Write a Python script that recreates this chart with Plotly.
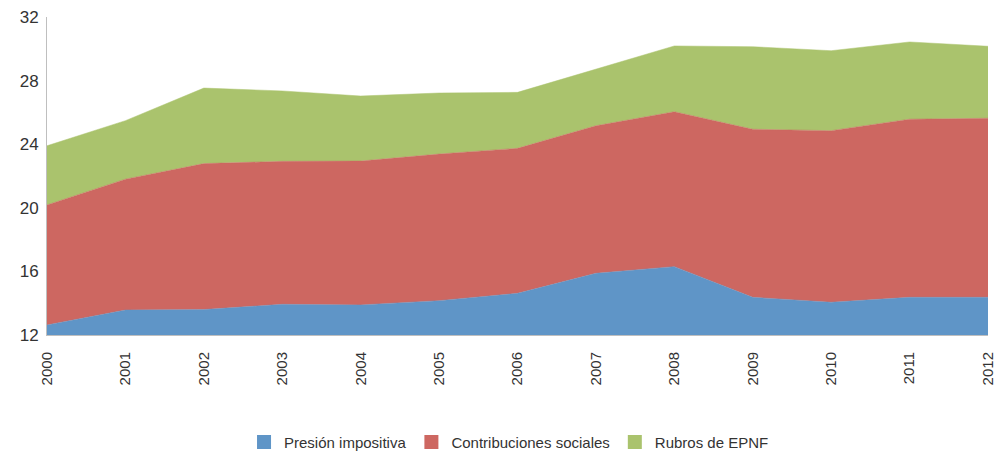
import plotly.graph_objects as go

years = [2000, 2001, 2002, 2003, 2004, 2005, 2006, 2007, 2008, 2009, 2010, 2011, 2012]
presion_impositiva = [12.63, 13.57, 13.60, 13.93, 13.89, 14.16, 14.62, 15.88, 16.30, 14.37, 14.06, 14.37, 14.37]
contribuciones_sociales = [7.55, 8.23, 9.18, 8.99, 9.05, 9.22, 9.12, 9.28, 9.74, 10.57, 10.79, 11.20, 11.26]
rubros_epnf = [3.72, 3.68, 4.75, 4.43, 4.09, 3.84, 3.52, 3.57, 4.14, 5.19, 5.03, 4.86, 4.53]
y_ticks = [12, 16, 20, 24, 28, 32]

FONT = "Liberation Sans Narrow, Liberation Sans, Arial, sans-serif"

fig = go.Figure()
series = [
    ("Presión impositiva", presion_impositiva, "#5F95C7"),
    ("Contribuciones sociales", contribuciones_sociales, "#CD6761"),
    ("Rubros de EPNF", rubros_epnf, "#AAC36D"),
]
for name, vals, col in series:
    fig.add_trace(go.Scatter(
        x=years, y=vals, name=name, mode="lines", stackgroup="one",
        line=dict(width=0.5, color=col), fillcolor=col, showlegend=False,
    ))
for name, vals, col in series:
    fig.add_trace(go.Scatter(
        x=[None], y=[None], name=name, mode="markers",
        marker=dict(symbol="square", size=14, color=col), showlegend=True,
    ))

fig.update_layout(
    width=999, height=454,
    margin=dict(l=47, r=11, t=17, b=119),
    paper_bgcolor="white", plot_bgcolor="white",
    font=dict(family=FONT, size=16, color="#333333"),
    showlegend=True,
    legend=dict(orientation="h", x=0.491, xanchor="center",
                yref="container", y=0.026, yanchor="middle",
                font=dict(size=15, family=FONT), itemwidth=30, traceorder="normal"),
    xaxis=dict(range=[2000, 2012], tickmode="array", tickvals=years,
               ticktext=[str(y) for y in years], tickangle=-90, automargin=False,
               showgrid=False, zeroline=False, showline=True, linecolor="#BFBFBF",
               linewidth=1, ticks="", ticklabelstandoff=10,
               tickfont=dict(size=15, family=FONT)),
    yaxis=dict(range=[12, 32], tickmode="array", tickvals=y_ticks, automargin=False,
               showgrid=False, zeroline=False, showline=True, linecolor="#BFBFBF",
               linewidth=1, ticks="", ticklabelstandoff=4,
               tickfont=dict(size=17, family=FONT)),
)

fig.write_html("out.html", config={"displayModeBar": False},
               post_script="document.body.style.margin='0';document.body.style.overflow='hidden';")
